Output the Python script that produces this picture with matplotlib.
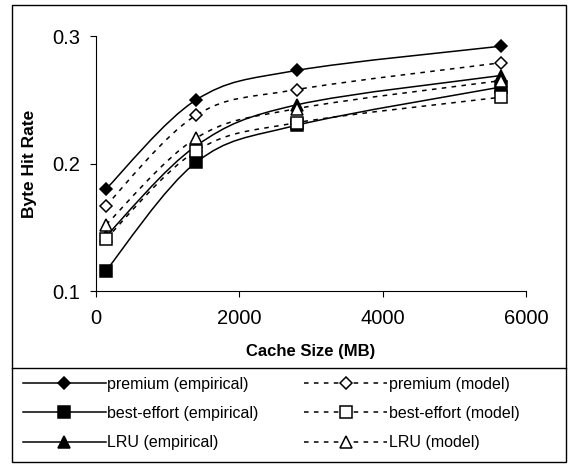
import matplotlib
matplotlib.use("Agg")
import matplotlib.pyplot as plt
from matplotlib.path import Path
from matplotlib.patches import PathPatch, Rectangle
from matplotlib.lines import Line2D

plt.rcParams['font.family'] = ['Liberation Sans', 'DejaVu Sans']

# data
cache_size = [140, 1400, 2800, 5650]
premium_emp = [0.180, 0.250, 0.273, 0.292]
premium_model = [0.167, 0.238, 0.258, 0.279]
besteffort_emp = [0.116, 0.201, 0.230, 0.260]
besteffort_model = [0.141, 0.210, 0.232, 0.252]
lru_emp = [0.143, 0.214, 0.246, 0.269]
lru_model = [0.152, 0.220, 0.243, 0.265]

x_ticks = [0, 2000, 4000, 6000]
y_ticks = [0.1, 0.2, 0.3]


def smooth_path(xs, ys):
    # Excel-style smoothed line (Catmull-Rom as cubic Bezier)
    pts = list(zip(xs, ys))
    n = len(pts)
    verts = [pts[0]]
    codes = [Path.MOVETO]
    for i in range(n - 1):
        p0 = pts[i - 1] if i > 0 else pts[i]
        p1 = pts[i]
        p2 = pts[i + 1]
        p3 = pts[i + 2] if i + 2 < n else pts[i + 1]
        c1 = (p1[0] + (p2[0] - p0[0]) / 6, p1[1] + (p2[1] - p0[1]) / 6)
        c2 = (p2[0] - (p3[0] - p1[0]) / 6, p2[1] - (p3[1] - p1[1]) / 6)
        verts += [c1, c2, p2]
        codes += [Path.CURVE4] * 3
    return Path(verts, codes)


fig = plt.figure(figsize=(5.71, 4.65), dpi=100)
ax = fig.add_axes([96 / 571, 1 - 291 / 465, 430 / 571, 255 / 465])

dash = (0, (3, 3.5))
series = [
    (premium_emp, "D", "black", "-", 6.5, "premium (empirical)"),
    (besteffort_emp, "s", "black", "-", 9, "best-effort (empirical)"),
    (lru_emp, "^", "black", "-", 9, "LRU (empirical)"),
    (premium_model, "D", "white", dash, 6.5, "premium (model)"),
    (besteffort_model, "s", "white", dash, 9, "best-effort (model)"),
    (lru_model, "^", "white", dash, 9, "LRU (model)"),
]

handles = []
for vals, mk, fc, ls, ms, label in series:
    patch = PathPatch(smooth_path(cache_size, vals), fill=False,
                      edgecolor="black", lw=1.1, linestyle=ls, zorder=2)
    ax.add_patch(patch)
    ax.plot(cache_size, vals, linestyle="none", marker=mk, markersize=ms,
            markerfacecolor=fc, markeredgecolor="black", markeredgewidth=1.1,
            zorder=3)
    handles.append(Line2D([], [], color="black", lw=1.1, linestyle=ls,
                          marker=mk, markersize=ms, markerfacecolor=fc,
                          markeredgecolor="black", markeredgewidth=1.1,
                          label=label))

ax.set_xlim(0, 6000)
ax.set_ylim(0.1, 0.3)
ax.set_xticks(x_ticks)
ax.set_yticks(y_ticks)
ax.set_yticklabels(["0.1", "0.2", "0.3"])
ax.spines["top"].set_visible(False)
ax.spines["right"].set_visible(False)
for s in ["left", "bottom"]:
    ax.spines[s].set_linewidth(0.8)
ax.tick_params(direction="out", length=4.3, width=0.8, labelsize=14.5)
ax.tick_params(axis="x", pad=9)
ax.tick_params(axis="y", pad=7)

ax.set_xlabel("Cache Size (MB)", fontsize=12, fontweight="bold")
ax.set_ylabel("Byte Hit Rate", fontsize=12.5, fontweight="bold")
ax.xaxis.set_label_coords(0.5, -0.239)
ax.xaxis.label.set_va("center")
ax.yaxis.set_label_coords(-0.1535, 0.5)
ax.yaxis.label.set_va("center")

# chart border and legend separator
fig.patches.append(Rectangle((12 / 571, 1 - 462 / 465), 554 / 571, 457 / 465,
                             transform=fig.transFigure, fill=False,
                             edgecolor="black", lw=1))
fig.lines.append(Line2D([12 / 571, 566 / 571], [1 - 368 / 465] * 2,
                        transform=fig.transFigure, color="black", lw=1))

fig.legend(handles=handles, ncol=2, loc="upper left",
           bbox_to_anchor=(13 / 571, 1 - 367 / 465), frameon=False,
           fontsize=11.5, handlelength=5.2, handletextpad=0.1,
           columnspacing=2.85, labelspacing=0.9, borderpad=0.1,
           numpoints=1)

fig.savefig("out.png", dpi=100)
